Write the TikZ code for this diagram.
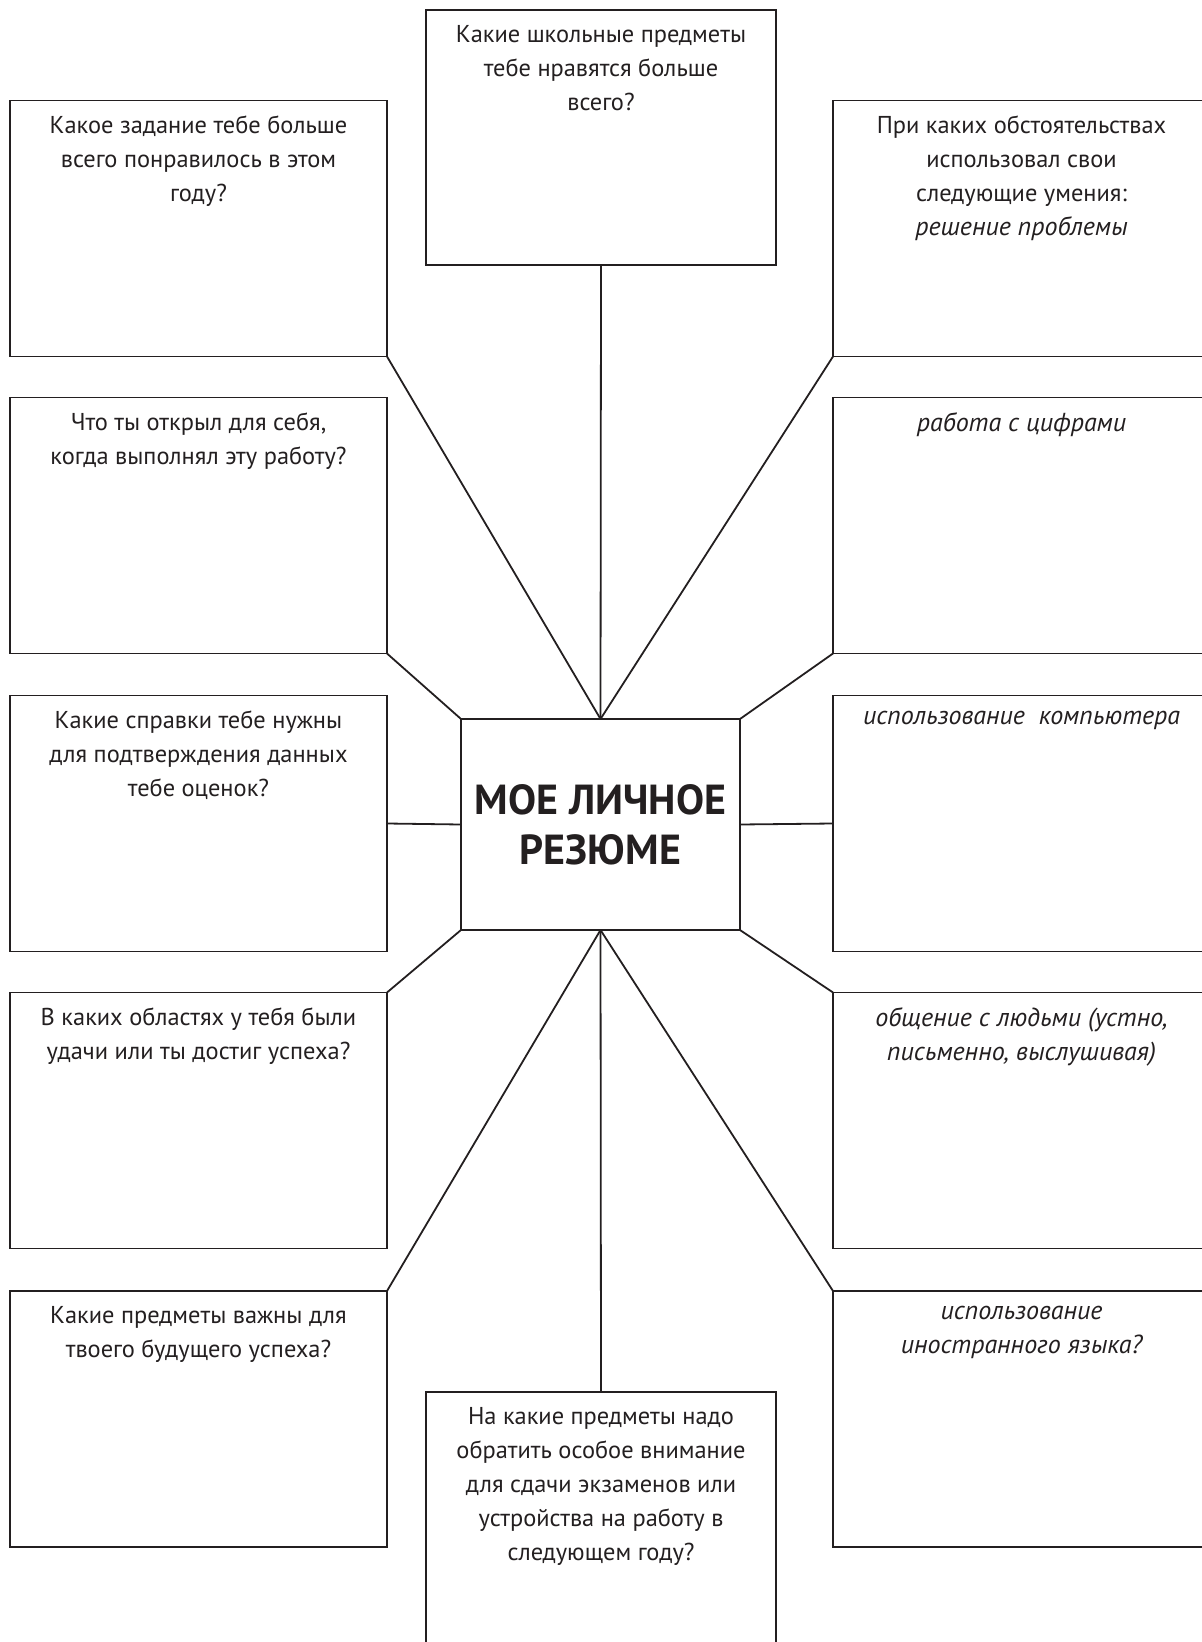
\documentclass[tikz,border=0pt]{standalone}
\usepackage{fontspec}
\setmainfont{PT Sans}
\usetikzlibrary{positioning}
\definecolor{inkgray}{RGB}{35, 31, 32}

\begin{document}
\begin{tikzpicture}[x=0.5pt, y=-0.5pt,
    box/.style={draw=inkgray, line width=0.9pt, inner sep=0pt, outer sep=0pt,
                minimum width=188.5pt, minimum height=128pt},
    midbox/.style={box, minimum width=175pt, minimum height=127.5pt},
    qtext/.style={align=center, inner sep=0pt, text=inkgray,
                  font=\fontsize{12.2}{17}\selectfont},
    itext/.style={qtext, font=\fontsize{13}{17}\selectfont\itshape},
    conn/.style={draw=inkgray, line width=0.9pt}]
    % page frame
    \clip (0,0) rectangle (1202,1642);

    % centre
    \node[box, minimum width=139.5pt, minimum height=105.5pt,
          font=\fontsize{21}{25}\selectfont\bfseries, align=center, text=inkgray]
          (C) at (600.5,824.5) {МОЕ ЛИЧНОЕ\\РЕЗЮМЕ};

    % top and bottom
    \node[midbox] (T) at (601,137.5) {};
    \node[midbox, minimum height=130pt] (B) at (601,1522) {};

    % left column
    \node[box] (L1) at (198.5,228.5) {};
    \node[box] (L2) at (198.5,525.5) {};
    \node[box] (L3) at (198.5,823.5) {};
    \node[box] (L4) at (198.5,1120.5) {};
    \node[box] (L5) at (198.5,1419) {};

    % right column (runs off the page edge)
    \node[box] (R1) at (1021.5,228.5) {};
    \node[box] (R2) at (1021.5,525.5) {};
    \node[box] (R3) at (1021.5,823.5) {};
    \node[box] (R4) at (1021.5,1120.5) {};
    \node[box] (R5) at (1021.5,1419) {};

    % questions
    \node[qtext, below=7.5pt of T.north] (Tq) {Какие школьные предметы\\тебе нравятся больше\\всего?};
    \node[qtext, below=7.5pt of B.north] (Bq) {На какие предметы надо\\обратить особое внимание\\для сдачи экзаменов или\\устройства на работу в\\следующем году?};
    \node[qtext, below=7.5pt of L1.north] (L1q) {Какое задание тебе больше\\всего понравилось в этом\\году?};
    \node[qtext, below=7.5pt of L2.north] (L2q) {Что ты открыл для себя,\\когда выполнял эту работу?};
    \node[qtext, below=7.5pt of L3.north] (L3q) {Какие справки тебе нужны\\для подтверждения данных\\тебе оценок?};
    \node[qtext, below=7.5pt of L4.north] (L4q) {В каких областях у тебя были\\удачи или ты достиг успеха?};
    \node[qtext, below=7.5pt of L5.north] (L5q) {Какие предметы важны для\\твоего будущего успеха?};
    \node[qtext, below=7.5pt of R1.north] (R1q) {При каких обстоятельствах\\использовал свои\\следующие умения:\\{\fontsize{13}{17}\selectfont\itshape решение проблемы}};
    \node[itext, below=7.5pt of R2.north] (R2q) {работа с цифрами};
    \node[itext, below=7.5pt of R3.north] (R3q) {использование\ \ компьютера};
    \node[itext, below=7.5pt of R4.north] (R4q) {общение с людьми (устно,\\письменно, выслушивая)};
    \node[itext, below=7.5pt of R5.north] (R5q) {использование\\иностранного языка?};

    % spokes
    \draw[conn] (T.south) -- (C.north);
    \draw[conn] (L1.south east) -- (C.north);
    \draw[conn] (R1.south west) -- (C.north);
    \draw[conn] (L2.south east) -- (C.north west);
    \draw[conn] (R2.south west) -- (C.north east);
    \draw[conn] (L3.east) -- (C.west);
    \draw[conn] (R3.west) -- (C.east);
    \draw[conn] (L4.north east) -- (C.south west);
    \draw[conn] (R4.north west) -- (C.south east);
    \draw[conn] (L5.north east) -- (C.south);
    \draw[conn] (R5.north west) -- (C.south);
    \draw[conn] (C.south) -- (B.north);
\end{tikzpicture}
\end{document}
